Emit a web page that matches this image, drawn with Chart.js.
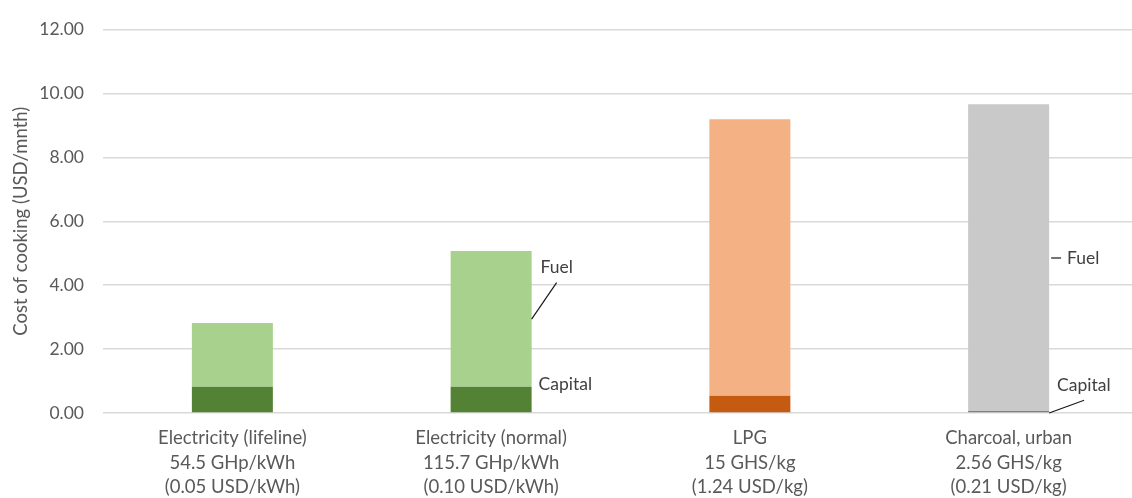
<!DOCTYPE html>
<html>
<head>
<meta charset="utf-8">
<script src="https://cdn.jsdelivr.net/npm/chart.js@4.4.1/dist/chart.umd.min.js"></script>
<style>
  html, body { margin: 0; padding: 0; background: #ffffff; overflow: hidden; }
  #wrap { width: 1140px; height: 498px; position: relative; }
</style>
</head>
<body>
<div id="wrap"><canvas id="chart"></canvas></div>
<script>
// Cooking cost per month, split into capital and fuel components
const categories = [
  ['Electricity (lifeline)', '54.5 GHp/kWh', '(0.05 USD/kWh)'],
  ['Electricity (normal)', '115.7 GHp/kWh', '(0.10 USD/kWh)'],
  ['LPG', '15 GHS/kg', '(1.24 USD/kg)'],
  ['Charcoal, urban', '2.56 GHS/kg', '(0.21 USD/kg)']
];
const capitalCost = [0.82, 0.82, 0.54, 0.06];
const fuelCost = [2.00, 4.25, 8.65, 9.60];
const yTicks = [0, 2, 4, 6, 8, 10, 12];

const capitalColors = ['#548235', '#548235', '#C55A11', '#7F7F7F'];
const fuelColors = ['#A9D18E', '#A9D18E', '#F4B183', '#C9C9C9'];

const FONT = 'Lato, "Open Sans", sans-serif';
const TEXT = '#595959';

// Callout labels beside the bars: series name, bar index, text offset/value, leader line
const callouts = [
  { text: 'Fuel', bar: 1, tx: 9, ty: 4.57, line: [[0, 2.94], [25, 4.08]] },
  { text: 'Capital', bar: 1, tx: 7, ty: 0.89, line: null },
  { text: 'Fuel', bar: 3, tx: 18, ty: 4.85, line: [[2, 4.85], [12, 4.85]] },
  { text: 'Capital', bar: 3, tx: 8, ty: 0.86, line: [[0, 0.0], [35, 0.40]] }
];

const calloutPlugin = {
  id: 'callouts',
  afterDatasetsDraw(chart) {
    const ctx = chart.ctx;
    const y = chart.scales.y;
    const meta = chart.getDatasetMeta(1);
    ctx.save();
    callouts.forEach(c => {
      const bar = meta.data[c.bar];
      const right = bar.x + bar.width / 2;
      if (c.line) {
        ctx.beginPath();
        ctx.strokeStyle = '#1a1a1a';
        ctx.lineWidth = 1.2;
        ctx.moveTo(right + c.line[0][0], y.getPixelForValue(c.line[0][1]));
        ctx.lineTo(right + c.line[1][0], y.getPixelForValue(c.line[1][1]));
        ctx.stroke();
      }
      ctx.fillStyle = '#404040';
      ctx.font = '17.5px ' + FONT;
      ctx.textAlign = 'left';
      ctx.textBaseline = 'middle';
      ctx.fillText(c.text, right + c.tx, y.getPixelForValue(c.ty));
    });
    ctx.restore();
  }
};

new Chart(document.getElementById('chart'), {
  type: 'bar',
  data: {
    labels: categories,
    datasets: [
      { label: 'Capital', data: capitalCost, backgroundColor: capitalColors, borderWidth: 0 },
      { label: 'Fuel', data: fuelCost, backgroundColor: fuelColors, borderWidth: 0 }
    ]
  },
  options: {
    responsive: true,
    maintainAspectRatio: false,
    animation: false,
    events: [],
    layout: { padding: { top: 22, right: 2, left: 0, bottom: 0 } },
    datasets: { bar: { barPercentage: 0.313, categoryPercentage: 1.0 } },
    plugins: { legend: { display: false }, tooltip: { enabled: false } },
    scales: {
      x: {
        stacked: true,
        grid: { display: false, drawTicks: false },
        border: { display: false },
        ticks: {
          color: TEXT,
          font: { family: FONT, size: 18.5, lineHeight: 1.324 },
          padding: 13,
          maxRotation: 0,
          autoSkip: false
        },
        afterFit(scale) { scale.height = 85; }
      },
      y: {
        stacked: true,
        min: 0,
        max: 12,
        afterBuildTicks(scale) { scale.ticks = yTicks.map(v => ({ value: v })); },
        grid: { color: '#D9D9D9', lineWidth: 1.4, drawTicks: false },
        border: { display: false },
        ticks: {
          color: TEXT,
          font: { family: FONT, size: 17.5 },
          padding: 19,
          callback: v => Number(v).toFixed(2)
        },
        title: {
          display: true,
          text: 'Cost of cooking (USD/mnth)',
          color: TEXT,
          font: { family: FONT, size: 18.5 },
          padding: { top: 10, bottom: 0 }
        },
        afterFit(scale) { scale.width = 103; }
      }
    }
  },
  plugins: [calloutPlugin]
});
</script>
</body>
</html>
